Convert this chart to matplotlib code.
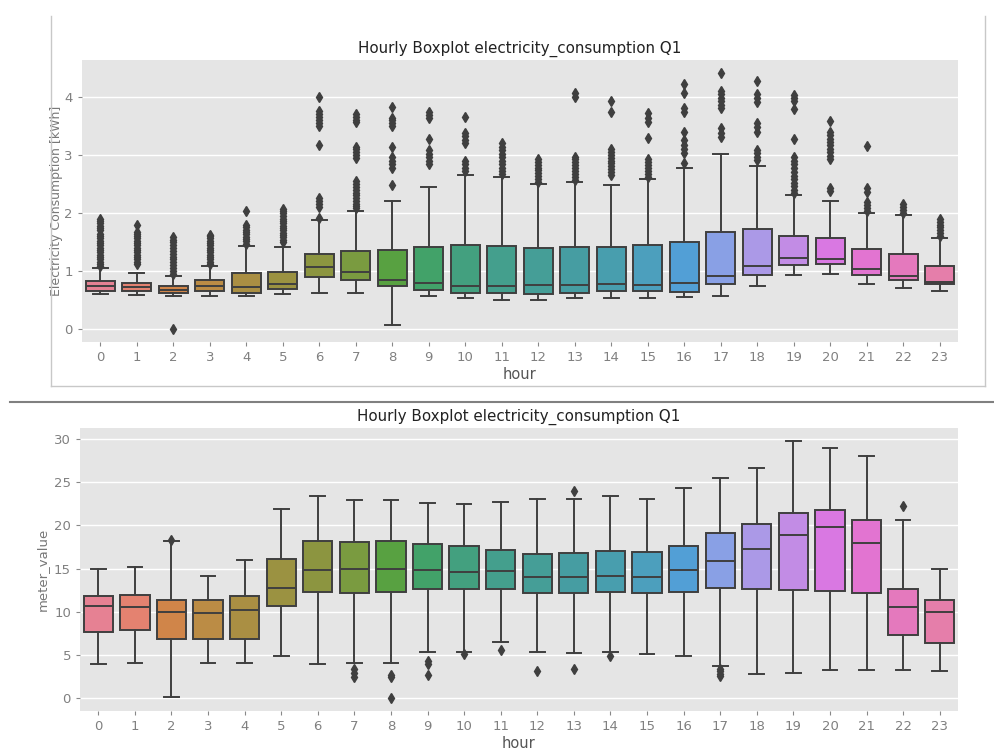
import numpy as np
import matplotlib
matplotlib.use("Agg")
import matplotlib.pyplot as plt
from matplotlib.lines import Line2D
import seaborn as sns

hours = list(range(24))

# electricity consumption per hour [kWh]
kwh_lo = [0.60, 0.58, 0.57, 0.57, 0.57, 0.61, 0.63, 0.63, 0.07, 0.57, 0.54, 0.50,
          0.50, 0.53, 0.54, 0.54, 0.56, 0.57, 0.74, 0.93, 0.95, 0.77, 0.71, 0.66]
kwh_q1 = [0.66, 0.65, 0.63, 0.65, 0.63, 0.69, 0.90, 0.85, 0.74, 0.67, 0.62, 0.62,
          0.61, 0.63, 0.65, 0.65, 0.64, 0.77, 0.93, 1.11, 1.12, 0.93, 0.84, 0.77]
kwh_med = [0.75, 0.73, 0.68, 0.74, 0.73, 0.78, 1.07, 0.99, 0.85, 0.80, 0.74, 0.75,
           0.76, 0.76, 0.78, 0.76, 0.79, 0.91, 1.08, 1.22, 1.21, 1.04, 0.92, 0.82]
kwh_q3 = [0.83, 0.80, 0.75, 0.85, 0.97, 0.98, 1.29, 1.34, 1.36, 1.41, 1.44, 1.43,
          1.39, 1.41, 1.42, 1.45, 1.50, 1.68, 1.72, 1.61, 1.56, 1.38, 1.29, 1.09]
kwh_hi = [1.05, 0.96, 0.92, 1.09, 1.43, 1.41, 1.88, 2.04, 2.20, 2.44, 2.65, 2.62,
          2.50, 2.54, 2.48, 2.58, 2.77, 3.01, 2.81, 2.31, 2.20, 2.00, 1.96, 1.56]
kwh_fliers = [
    [1.08, 1.12, 1.16, 1.20, 1.24, 1.28, 1.32, 1.36, 1.40, 1.44, 1.48, 1.52, 1.56,
     1.60, 1.64, 1.70, 1.74, 1.78, 1.82, 1.86, 1.89],
    [1.12, 1.16, 1.20, 1.24, 1.28, 1.32, 1.36, 1.40, 1.44, 1.48, 1.52, 1.56, 1.60,
     1.64, 1.68, 1.80],
    [0.0, 0.95, 1.0, 1.05, 1.10, 1.15, 1.20, 1.25, 1.30, 1.35, 1.40, 1.45, 1.50,
     1.54, 1.58],
    [1.12, 1.16, 1.20, 1.24, 1.28, 1.32, 1.36, 1.40, 1.44, 1.48, 1.52, 1.56, 1.60,
     1.62],
    [1.47, 1.51, 1.55, 1.59, 1.63, 1.67, 1.71, 1.75, 1.80, 2.03],
    [1.50, 1.54, 1.58, 1.62, 1.66, 1.70, 1.74, 1.78, 1.82, 1.86, 1.90, 1.95,
     2.00, 2.04, 2.07],
    [1.92, 2.10, 2.15, 2.20, 2.25, 3.17, 3.50, 3.55, 3.60, 3.65, 3.70, 3.75, 4.0],
    [2.08, 2.12, 2.16, 2.20, 2.25, 2.30, 2.35, 2.40, 2.45, 2.50, 2.55, 2.95, 3.0,
     3.05, 3.10, 3.14, 3.56, 3.60, 3.65, 3.70],
    [2.48, 2.78, 2.84, 2.90, 2.96, 3.13, 3.50, 3.55, 3.60, 3.64, 3.82],
    [2.84, 2.90, 2.96, 3.02, 3.08, 3.27, 3.63, 3.68, 3.73],
    [2.72, 2.78, 2.84, 2.90, 3.20, 3.26, 3.32, 3.38, 3.65],
    [2.67, 2.72, 2.78, 2.84, 2.90, 2.96, 3.02, 3.08, 3.14, 3.20],
    [2.53, 2.58, 2.63, 2.68, 2.73, 2.78, 2.83, 2.88, 2.93],
    [2.57, 2.62, 2.67, 2.72, 2.77, 2.82, 2.87, 2.92, 2.97, 4.0, 4.07],
    [2.65, 2.70, 2.75, 2.80, 2.85, 2.90, 2.95, 3.0, 3.05, 3.10, 3.74, 3.92],
    [2.62, 2.67, 2.72, 2.77, 2.82, 2.87, 2.92, 3.29, 3.57, 3.64, 3.72],
    [2.86, 3.03, 3.10, 3.17, 3.25, 3.39, 3.73, 3.80, 4.07, 4.21],
    [3.30, 3.38, 3.46, 3.80, 3.86, 3.92, 3.98, 4.04, 4.10, 4.41],
    [2.91, 2.97, 3.03, 3.09, 3.40, 3.47, 3.54, 3.90, 3.97, 4.04, 4.27],
    [2.35, 2.40, 2.46, 2.52, 2.58, 2.64, 2.70, 2.77, 2.84, 2.90, 2.97, 3.28,
     3.78, 3.93, 3.98, 4.03],
    [2.37, 2.42, 2.92, 2.98, 3.04, 3.10, 3.16, 3.22, 3.28, 3.34, 3.40, 3.58],
    [2.04, 2.08, 2.13, 2.18, 2.36, 2.42, 3.15],
    [2.0, 2.05, 2.10, 2.15],
    [1.60, 1.65, 1.70, 1.75, 1.80, 1.85, 1.90],
]

# meter_value per hour
mv_lo = [3.9, 4.1, 0.1, 4.1, 4.1, 4.9, 3.9, 4.1, 4.1, 5.3, 5.3, 6.5,
         5.4, 5.2, 5.3, 5.1, 4.9, 3.7, 2.8, 2.9, 3.3, 3.3, 3.3, 3.1]
mv_q1 = [7.7, 7.9, 6.9, 6.8, 6.8, 10.7, 12.3, 12.2, 12.3, 12.6, 12.6, 12.6,
         12.2, 12.2, 12.3, 12.2, 12.3, 12.8, 12.6, 12.5, 12.4, 12.2, 7.3, 6.4]
mv_med = [10.7, 10.6, 10.0, 9.9, 10.2, 12.7, 14.8, 15.0, 15.0, 14.9, 14.6, 14.7,
          14.0, 14.0, 14.1, 14.0, 14.9, 15.9, 17.3, 18.9, 19.8, 18.0, 10.5, 10.0]
mv_q3 = [11.8, 12.0, 11.4, 11.4, 11.8, 16.1, 18.2, 18.1, 18.2, 17.8, 17.6, 17.2,
         16.7, 16.8, 17.1, 16.9, 17.6, 19.1, 20.2, 21.4, 21.8, 20.6, 12.6, 11.4]
mv_hi = [15.0, 15.2, 18.2, 14.1, 16.0, 21.9, 23.4, 23.0, 23.0, 22.6, 22.5, 22.7,
         23.1, 23.1, 23.4, 23.1, 24.3, 25.5, 26.7, 29.8, 29.0, 28.0, 20.6, 15.0]
mv_fliers = [[], [], [18.3], [], [], [], [], [3.4, 2.95, 2.45], [2.65, 2.4, 0.0],
             [4.3, 3.9, 2.7], [5.1], [5.6], [3.1], [24.0, 3.4], [4.9], [], [],
             [3.4, 3.1, 2.8, 2.6], [], [], [], [], [22.3], []]

colors = [sns.desaturate(c, 0.75) for c in sns.color_palette("husl", 24)]
edge = "#3f3f3f"


def hourly_boxplot(ax, lo, q1, med, q3, hi, fliers, ylabel, yticks, ylsize, ylpad):
    stats = [dict(whislo=a, q1=b, med=c, q3=d, whishi=e, fliers=f)
             for a, b, c, d, e, f in zip(lo, q1, med, q3, hi, fliers)]
    bp = ax.bxp(stats, positions=hours, widths=0.8, patch_artist=True,
                boxprops=dict(edgecolor=edge, linewidth=1.4),
                medianprops=dict(color=edge, linewidth=1.4),
                whiskerprops=dict(color=edge, linewidth=1.4),
                capprops=dict(color=edge, linewidth=1.4),
                flierprops=dict(marker="d", markersize=5, markerfacecolor=edge,
                                markeredgecolor=edge))
    for patch, col in zip(bp["boxes"], colors):
        patch.set_facecolor(col)
    ax.set_facecolor("#e5e5e5")
    ax.set_axisbelow(True)
    ax.grid(axis="y", color="white", linewidth=1)
    ax.grid(axis="x", visible=False)
    for s in ax.spines.values():
        s.set_visible(False)
    ax.set_xlim(-0.5, 23.5)
    ax.set_xticks(hours)
    ax.set_xticklabels([str(h) for h in hours])
    ax.set_yticks(yticks)
    ax.tick_params(colors="#888888", labelcolor="#808080", labelsize=9.5,
                   length=3)
    ax.set_title("Hourly Boxplot electricity_consumption Q1", fontsize=10.9,
                 color="#222222", pad=5)
    ax.set_xlabel("hour", fontsize=10.5, color="#555555", labelpad=2)
    ax.set_ylabel(ylabel, fontsize=ylsize, color="#777777", labelpad=ylpad)


fig = plt.figure(figsize=(9.95, 7.49), dpi=100)

ax1 = fig.add_axes([0.0824, 0.5434, 0.8804, 0.3765])
hourly_boxplot(ax1, kwh_lo, kwh_q1, kwh_med, kwh_q3, kwh_hi, kwh_fliers,
               "Electricity Consumption [kWh]", [0, 1, 2, 3, 4], 9, 1)

ax2 = fig.add_axes([0.0804, 0.0507, 0.8824, 0.3779])
hourly_boxplot(ax2, mv_lo, mv_q1, mv_med, mv_q3, mv_hi, mv_fliers,
               "meter_value", [0, 5, 10, 15, 20, 25, 30], 9.5, 4)

# frame around the upper chart and separator below it
W, H = 995.0, 749.0
frame = "#c8c8c8"
fig.add_artist(Line2D([51 / W, 51 / W], [1 - 16 / H, 1 - 386 / H], color=frame, lw=1))
fig.add_artist(Line2D([985 / W, 985 / W], [1 - 16 / H, 1 - 386 / H], color=frame, lw=1))
fig.add_artist(Line2D([51 / W, 985 / W], [1 - 386 / H, 1 - 386 / H], color=frame, lw=1))
fig.add_artist(Line2D([10 / W, 1.0], [1 - 402 / H, 1 - 402 / H], color="#808080", lw=1.5))

fig.savefig("out.png", dpi=100)
